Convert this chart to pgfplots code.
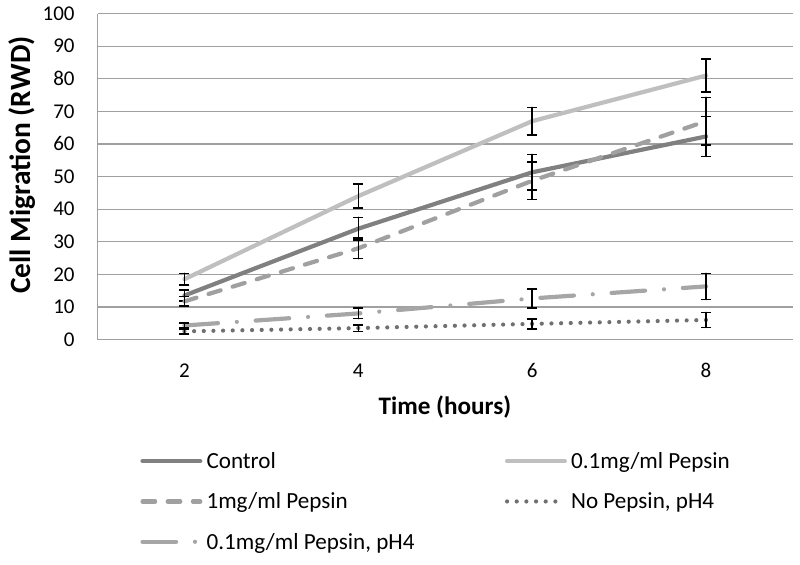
\documentclass[border=0pt]{standalone}
\usepackage{pgfplots}
\pgfplotsset{compat=1.18}
\usepackage{fontspec}
\setmainfont{Carlito}
\definecolor{cCtrl}{RGB}{128,128,128}
\definecolor{cP01}{RGB}{191,191,191}
\definecolor{cP1}{RGB}{160,160,160}
\definecolor{cNoP}{RGB}{112,112,112}
\definecolor{cPH4}{RGB}{166,166,166}
\definecolor{cGrid}{RGB}{160,160,160}
\begin{document}
\begin{tikzpicture}
\path[use as bounding box] (0,0) rectangle (380.95pt,268.57pt);
\begin{axis}[
  at={(46.43pt,106.9pt)}, anchor=south west,
  scale only axis, width=331.2pt, height=155.2pt,
  xmin=1, xmax=9, ymin=0, ymax=100,
  xtick={2,4,6,8}, ytick={0,10,...,100},
  axis x line=bottom, axis y line=left,
  axis line style={cGrid, line width=0.6pt, -},
  major tick length=0pt,
  ymajorgrids, grid style={cGrid, line width=0.6pt},
  /pgf/number format/assume math mode=true,
  tick label style={font=\fontsize{10}{12}\selectfont, black},
  yticklabel style={xshift=-7.4pt},
  xticklabel style={yshift=-7.9pt},
  xlabel={Time (hours)},
  ylabel={Cell Migration (RWD)},
  xlabel style={font=\fontsize{12}{14}\selectfont\bfseries, at={(axis description cs:0.4996,-0.207)}, anchor=center},
  ylabel style={font=\fontsize{14}{16}\selectfont\bfseries, at={(axis description cs:-0.1086,0.535)}, anchor=center},
  clip=false,
  legend columns=2,
  legend cell align=left,
  legend image code/.code={\draw[#1] (0pt,0pt) -- (27.5pt,0pt);},
  legend style={at={(axis description cs:0.0611,-0.340)}, anchor=north west,
    draw=none, fill=none, inner sep=0pt, column sep=0pt, row sep=9.3pt,
    nodes={inner sep=0pt}, font=\fontsize{11}{12}\selectfont},
  error bars/y dir=both, error bars/y explicit,
  error bars/error bar style={black, line width=0.75pt, solid},
  error bars/error mark options={rotate=90, black, mark size=2.4pt, line width=0.75pt, solid},
]
\addplot[cCtrl, line width=2pt, line cap=round] coordinates {
  (2,13.5) +- (0,1.7)
  (4,34) +- (0,3.5)
  (6,51.3) +- (0,5.5)
  (8,62.3) +- (0,6.1)
};
\addlegendentry{\hspace{2pt}\makebox[142.1pt][l]{\strut Control}}
\addplot[cP01, line width=2pt, line cap=round] coordinates {
  (2,18.5) +- (0,1.8)
  (4,44) +- (0,3.7)
  (6,67) +- (0,4.2)
  (8,81) +- (0,5)
};
\addlegendentry{\hspace{2pt}\strut 0.1mg/ml Pepsin}
\addplot[cP1, line width=2pt, line cap=round, dash pattern=on 6pt off 6pt] coordinates {
  (2,11.7) +- (0,1.5)
  (4,28) +- (0,3.2)
  (6,48.7) +- (0,5.7)
  (8,67) +- (0,7.3)
};
\addlegendentry{\hspace{2pt}\makebox[142.1pt][l]{\strut 1mg/ml Pepsin}}
\addplot[cNoP, line width=2pt, line cap=round, dash pattern=on 0pt off 4.6pt] coordinates {
  (2,2.5) +- (0,0.8)
  (4,3.5) +- (0,1)
  (6,4.8) +- (0,1.5)
  (8,6) +- (0,2.3)
};
\addlegendentry{\hspace{2pt}\strut No Pepsin, pH4}
\addplot[cPH4, line width=2pt, line cap=round, dash pattern=on 16pt off 9pt on 0pt off 9pt] coordinates {
  (2,4.3) +- (0,0.8)
  (4,8) +- (0,1.6)
  (6,12.6) +- (0,2.9)
  (8,16.3) +- (0,4)
};
\addlegendentry{\hspace{2pt}\makebox[142.1pt][l]{\strut 0.1mg/ml Pepsin, pH4}}
\end{axis}
\end{tikzpicture}
\end{document}
